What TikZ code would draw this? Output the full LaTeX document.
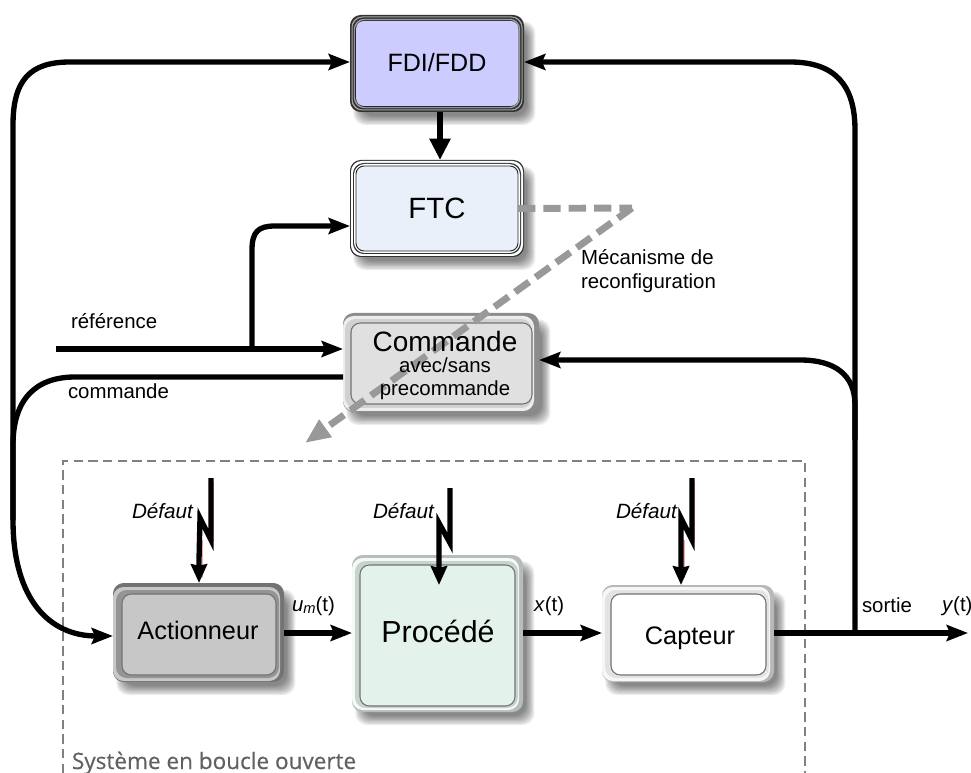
\documentclass[tikz,border=0pt]{standalone}
\usepackage{fontspec}
\setmainfont{Liberation Sans}
\newfontfamily\sysfont{Open Sans}[RawFeature={embolden=0.5}]
\usetikzlibrary{arrows.meta,calc}
\definecolor{fdifill}{HTML}{CCCCFF}
\definecolor{ftcfill}{HTML}{E9F0FA}
\definecolor{procfill}{HTML}{E3F2EA}
\tikzset{
  px/.style={x=0.75pt,y=-0.75pt},
  flat/.style={rectangle,rounded corners=8pt,inner sep=0pt,outer sep=0pt},
  inbox/.style={flat,rounded corners=7pt,draw=black!55,line width=0.8pt},
  wire/.style={line width=4pt,line cap=butt,-{Stealth[length=16pt,width=12pt,inset=2.5pt]}},
  plainwire/.style={line width=4pt},
  boltline/.style={line width=4pt,miter limit=10,-{Stealth[length=14pt,width=12pt,inset=1pt]}},
  boltpink/.style={line width=1pt,color=red!35},
  grayd/.style={line width=5.2pt,color=black!40,dash pattern=on 13pt off 6pt},
  lab/.style={inner sep=0pt,outer sep=0pt,font=\fontsize{15.3}{18}\selectfont,anchor=base west},
  big/.style={inner sep=0pt,outer sep=0pt,anchor=base}
}
\newcommand{\softshadow}[4]{%
  \foreach \k in {0,...,7}{%
    \fill[black,opacity=.075,rounded corners=9pt]
      ({#1+11-\k*1.1},{#2+14-\k*1.1}) rectangle ({#3+3+\k*1.2},{#4+4+\k*1.3});}}
\newcommand{\panel}[6]{%
  \node[#6,minimum width={(#4-#2)*0.75pt},minimum height={(#5-#3)*0.75pt}]
    (#1) at ({(#2+#4)/2},{(#3+#5)/2}) {};}
\begin{document}
\begin{tikzpicture}[px]
\useasboundingbox (0,0) rectangle (971,773);
% shadows
\softshadow{350}{15}{524}{112}
\softshadow{350}{160}{524}{257}
\softshadow{343}{313}{539}{412}
\softshadow{113}{583}{284}{682}
\softshadow{352}{555}{523}{712}
\softshadow{602}{585}{774}{682}
% dashed frame
\coordinate (f1) at (63,773); \coordinate (f2) at (63,461);
\coordinate (f3) at (805,461); \coordinate (f4) at (805,773);
\draw[black!50,line width=1.5pt,dash pattern=on 7pt off 4pt] (f1)--(f2)--(f3)--(f4);
% FDI
\panel{fdi}{350}{15}{524}{112}{flat,fill=black!80}
\panel{fdiA}{351.5}{16.5}{522.5}{110.5}{flat,fill=black!35}
\panel{fdiB}{352.5}{17.5}{521.5}{109.5}{flat,fill=black!80}
\panel{fdiC}{353.8}{18.8}{520.2}{108.2}{flat,fill=black!35}
\panel{fdiD}{354.8}{19.8}{519.2}{107.2}{flat,fill=black!85}
\panel{fdiE}{356}{21}{518.5}{106}{flat,rounded corners=6pt,fill=fdifill}
% FTC
\panel{ftc}{350}{160}{524}{257}{flat,fill=black!80}
\panel{ftcA}{351}{161}{523}{256}{flat,fill=white}
\panel{ftcB}{353}{163}{521}{254}{flat,fill=black!80}
\panel{ftcC}{354}{164}{520}{253}{flat,fill=white}
\panel{ftcD}{356}{166}{518}{251}{flat,rounded corners=6pt,draw=black!85,line width=.7pt,fill=ftcfill}
% Commande
\panel{cmd}{343}{313}{539}{412}{flat,fill=black!45}
\panel{cmdA}{343}{316}{534}{411}{flat,fill=black!7}
\panel{cmdB}{345}{319}{532}{408}{flat,fill=black!18}
\panel{cmdC}{351}{323}{532}{404}{inbox,fill=black!12}
% Actionneur
\panel{act}{113}{583}{284}{682}{flat,fill=black!55}
\panel{actA}{113}{587}{280}{681}{flat,fill=black!22}
\panel{actB}{116}{590}{279}{678}{flat,fill=black!42}
\panel{actC}{122}{594}{276}{675}{inbox,fill=black!22}
% Procede
\panel{proc}{352}{555}{523}{712}{flat,fill=procfill!60!black!60}
\panel{procA}{352}{558}{519}{710}{flat,fill=procfill!40}
\panel{procB}{355}{561}{518}{708}{flat,fill=procfill!85!black!90}
\panel{procC}{360}{565}{515}{706}{inbox,fill=procfill}
% Capteur
\panel{cap}{602}{585}{774}{682}{flat,fill=black!28}
\panel{capA}{602}{587}{770}{681}{flat,fill=black!3}
\panel{capB}{605}{590}{769}{678}{flat,fill=black!11}
\panel{capC}{611}{594}{766}{675}{inbox,fill=white}
% reconfiguration
\coordinate (g1) at (632,208);
\coordinate (g2) at (305,443);
\draw[grayd] (ftc.center -| 518,208) -- (g1);
\draw[grayd,-{Stealth[length=19pt,width=15pt,inset=0pt]}] (g1) -- (g2);
% labels in boxes
\node[big,font=\fontsize{18.8}{22}\selectfont] (tfdi) at (437,72) {FDI/FDD};
\node[big,font=\fontsize{22}{26}\selectfont] (tftc) at (437,219) {FTC};
\node[big,font=\fontsize{21}{25}\selectfont] (tcmd) at (445,352) {Commande};
\node[big,font=\fontsize{15.3}{18}\selectfont] (tcmd2) at (445,373) {avec/sans};
\node[big,font=\fontsize{15.3}{18}\selectfont] (tcmd3) at (445,396) {precommande};
\node[big,font=\fontsize{19}{22}\selectfont] (tact) at (198,639) {Actionneur};
\node[big,font=\fontsize{22.8}{26}\selectfont] (tproc) at (438,642) {Procédé};
\node[big,font=\fontsize{19}{22}\selectfont] (tcap) at (690,644) {Capteur};
% signal wires
\coordinate (ref0) at (56,349);
\coordinate (refb) at (252,349);
\coordinate (ftcin) at (300,226);
\coordinate (fdiin) at (300,62);
\coordinate (fdiout) at (700,62);
\coordinate (cmdin) at (700,360);
\coordinate (cmdout) at (100,377);
\coordinate (actin) at (60,636);
\coordinate (vsplit) at (13,520);
\coordinate (ysplit) at (855,633);
\coordinate (yend) at (968,633);
\draw[wire] (ref0) -- (cmd.west |- ref0);
\draw[wire] (refb) -- (252,250) .. controls (252,232) and (258,226) .. (275,226) -- (ftc.west |- ftcin);
\draw[plainwire] (cmd.west |- cmdout) -- (75,377) .. controls (35,377) and (13,400) .. (13,445) -- (vsplit);
\draw[wire] (vsplit) .. controls (13,600) and (50,636) .. (act.west |- actin);
\draw[wire] (vsplit) -- (13,125) .. controls (13,80) and (30,62) .. (70,62) -- (fdi.west |- fdiin);
\draw[wire] (ysplit) -- (855,130) .. controls (855,85) and (835,62) .. (790,62) -- (fdi.east |- fdiout);
\draw[wire] (855,440) -- (855,405) .. controls (855,375) and (835,360) .. (800,360) -- (cmd.east |- cmdin);
\draw[line width=5pt,-{Stealth[length=16pt,width=15pt,inset=0pt]}] (fdi.south -| 440,112) -- (ftc.north -| 440,160);
\draw[wire] (act.east |- 0,633) -- (proc.west |- 0,633);
\draw[wire] (proc.east |- 0,633) -- (cap.west |- 0,633);
\draw[wire] (cap.east |- ysplit) -- (yend);
% bolts
\coordinate (ba) at (211,478); \coordinate (bb) at (450,488); \coordinate (bc) at (692,478);
\draw[boltpink] (213.5,482)--(213.5,542);
\draw[boltpink] (202.5,540)--(202.5,578);
\draw[boltline] (ba) -- (211,540) -- (200,518) -- (199,560) -- (act.north -| 199,583);
\draw[boltline] (bb) -- (450,543) -- (439,523) -- (439,585);
\draw[boltpink] (694.5,482)--(694.5,542);
\draw[boltpink] (684,540)--(684,578);
\draw[boltline] (bc) -- (692,540) -- (681,518) -- (681,560) -- (cap.north -| 681,585);
% free labels
\node[lab,font=\fontsize{15.5}{18}\selectfont\itshape] (d1) at (132,518) {Défaut};
\node[lab,font=\fontsize{15.5}{18}\selectfont\itshape] (d2) at (373,518) {Défaut};
\node[lab,font=\fontsize{15.5}{18}\selectfont\itshape] (d3) at (616,518) {Défaut};
\node[lab] (lref) at (71,329) {référence};
\node[lab] (lcom) at (68,399) {commande};
\node[lab] (lmec1) at (581,265) {Mécanisme de};
\node[lab] (lmec2) at (581,289) {reconfiguration};
\node[lab] (lum) at (292,611) {\textit{u}\raisebox{-2pt}{\fontsize{11}{12}\selectfont\textit{m}}(t)};
\node[lab] (lx) at (534,611) {\textit{x}(t)};
\node[lab] (lsort) at (862,612) {sortie};
\node[lab] (ly) at (942,611) {\textit{y}(t)};
\node[lab,font=\fontsize{16.9}{20}\selectfont\sysfont,text=black!62] (lsys) at (72,769) {Système en boucle ouverte};
\end{tikzpicture}
\end{document}
